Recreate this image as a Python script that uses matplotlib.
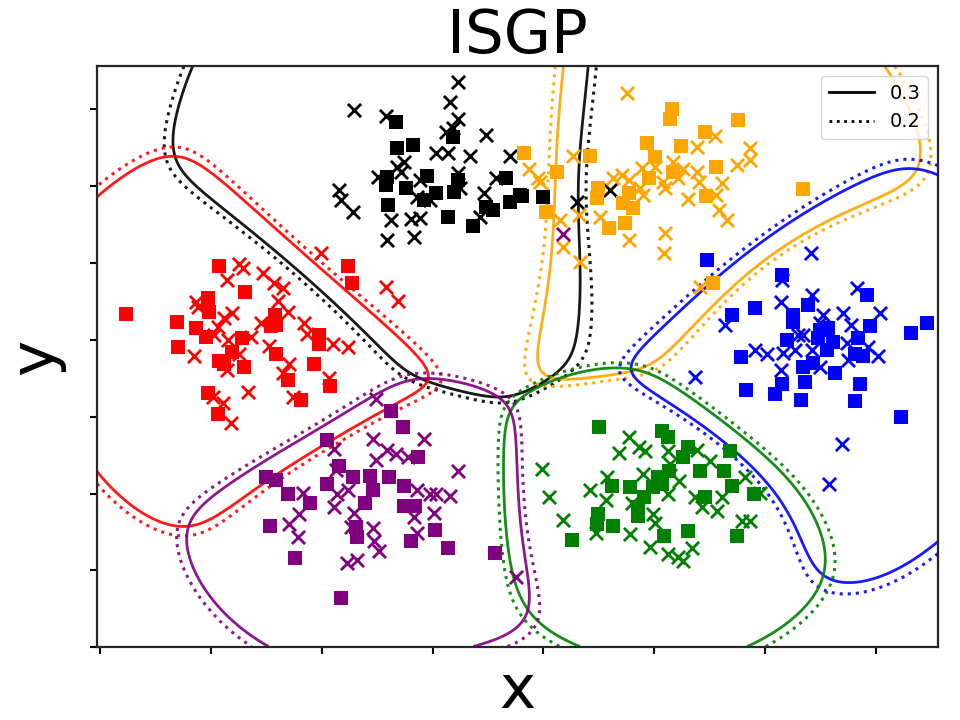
import numpy as np
import matplotlib.pyplot as plt

# ---- data (x, y) ----
black_squares = [(-0.33, 2.83), (-0.32, 2.49), (-0.18, 2.53), (0.18, 2.64), (-0.41, 2.12),
                 (-0.42, 2.01), (-0.24, 1.97), (-0.05, 2.13), (0.03, 1.91), (-0.08, 1.82),
                 (0.19, 1.92), (0.23, 2.08), (-0.40, 1.75), (0.14, 1.60), (0.36, 1.48),
                 (0.48, 1.73), (0.54, 1.69), (0.66, 2.10), (0.70, 1.79), (0.81, 1.87),
                 (1.00, 1.86), (0.79, 1.88)]
black_crosses = [(0.23, 3.36), (0.16, 3.09), (-0.71, 2.99), (-0.42, 2.91), (0.23, 2.87),
                 (0.12, 2.70), (0.18, 2.75), (0.48, 2.66), (0.03, 2.43), (0.14, 2.43),
                 (0.34, 2.39), (0.70, 2.39), (-0.26, 2.32), (-0.32, 2.25), (-0.49, 2.12),
                 (-0.29, 2.19), (-0.11, 2.08), (0.23, 2.17), (0.25, 1.97), (0.46, 1.91),
                 (0.57, 2.10), (-0.85, 1.95), (-0.83, 1.82), (-0.72, 1.66), (-0.14, 1.86),
                 (-0.02, 1.82), (-0.38, 1.56), (-0.20, 1.57), (-0.11, 1.58), (0.43, 1.60),
                 (-0.41, 1.30), (-0.17, 1.34), (1.60, 1.95), (1.30, 1.79)]

orange_squares = [(2.16, 3.01), (2.14, 2.87), (2.76, 2.86), (2.46, 2.70), (1.93, 2.56),
                  (2.24, 2.52), (2.01, 2.38), (1.42, 2.39), (0.82, 2.43), (1.12, 2.18),
                  (2.56, 2.25), (2.17, 2.19), (1.95, 2.10), (1.49, 1.97), (1.48, 1.84),
                  (1.77, 1.91), (1.72, 1.78), (1.81, 1.71), (2.47, 1.87), (1.02, 1.66),
                  (1.74, 1.52), (1.59, 1.45), (3.34, 1.96), (2.53, 0.74)]
orange_crosses = [(1.75, 3.21), (2.55, 2.65), (2.39, 2.51), (2.86, 2.49), (2.86, 2.34),
                  (2.75, 2.27), (1.27, 2.39), (2.17, 2.31), (1.89, 2.23), (2.01, 2.25),
                  (2.26, 2.22), (2.39, 2.18), (1.71, 2.14), (1.63, 2.10), (1.77, 2.08),
                  (2.08, 2.05), (2.10, 1.97), (2.21, 2.10), (2.40, 2.05), (2.61, 2.04),
                  (1.87, 1.97), (1.90, 1.88), (2.56, 1.88), (2.30, 1.83), (2.58, 1.69),
                  (2.66, 1.56), (0.87, 2.22), (0.95, 2.10), (0.97, 2.05), (1.32, 1.62),
                  (1.51, 1.60), (1.15, 1.56), (1.77, 1.30), (2.10, 1.39), (1.18, 1.21),
                  (2.09, 1.13), (1.33, 1.01), (2.41, 0.69)]

red_squares = [(-1.93, 0.96), (-0.76, 0.96), (-0.73, 0.74), (-1.69, 0.62), (-2.77, 0.34),
               (-2.03, 0.55), (-2.02, 0.36), (-2.31, 0.23), (-2.14, 0.16), (-2.05, 0.04),
               (-2.30, -0.09), (-1.42, 0.32), (-1.46, 0.18), (-1.41, 0.19), (-1.72, 0.03),
               (-1.81, -0.16), (-1.03, 0.06), (-1.03, -0.06), (-1.93, -0.27), (-1.88, -0.32),
               (-1.70, -0.35), (-1.41, -0.18), (-1.07, -0.31), (-1.31, -0.52), (-0.93, -0.60),
               (-2.03, -0.69), (-1.19, -0.78), (-1.94, -0.96)]
red_crosses = [(-1.01, 1.13), (-1.75, 0.99), (-1.71, 0.94), (-1.53, 0.87), (-1.86, 0.78),
               (-1.43, 0.74), (-1.35, 0.68), (-1.40, 0.51), (-2.14, 0.49), (-2.12, 0.43),
               (-1.81, 0.35), (-1.88, 0.29), (-1.31, 0.36), (-1.55, 0.22), (-1.94, 0.17),
               (-1.97, 0.06), (-1.16, 0.22), (-1.13, 0.08), (-1.64, 0.04), (-1.85, 0.00),
               (-1.48, -0.08), (-0.90, -0.06), (-0.76, -0.09), (-2.15, -0.21), (-1.75, -0.19),
               (-1.30, -0.32), (-1.35, -0.43), (-1.86, -0.39), (-0.94, -0.49), (-1.67, -0.68),
               (-1.26, -0.74), (-1.98, -0.74), (-1.89, -0.82), (-1.82, -1.08), (-0.42, 0.69),
               (-0.31, 0.51)]

blue_squares = [(2.48, 1.04), (3.15, 0.84), (3.92, 0.58), (2.70, 0.32), (2.91, 0.42),
                (3.25, 0.32), (3.25, 0.23), (3.39, 0.45), (3.50, 0.13), (3.57, 0.16),
                (3.48, 0.03), (3.61, -0.03), (3.56, -0.13), (3.84, 0.03), (3.95, 0.18),
                (3.20, 0.00), (2.78, -0.22), (3.81, -0.19), (3.88, -0.21), (3.34, -0.35),
                (3.43, -0.30), (3.36, -0.55), (3.63, -0.43), (3.86, -0.57), (2.83, -0.65),
                (3.15, -0.58), (3.09, -0.70), (3.32, -0.78), (3.81, -0.79), (4.32, 0.09),
                (4.46, 0.22), (4.23, -1.01)]
blue_crosses = [(3.41, 1.13), (3.15, 0.78), (3.83, 0.68), (3.42, 0.58), (3.14, 0.49),
                (2.64, 0.19), (3.52, 0.32), (3.70, 0.35), (4.04, 0.35), (3.78, 0.19),
                (3.50, 0.22), (3.30, 0.06), (3.34, 0.06), (2.91, -0.13), (3.02, -0.19),
                (3.16, -0.17), (3.27, -0.13), (3.42, -0.13), (3.74, -0.04), (3.93, -0.09),
                (4.02, -0.21), (3.75, -0.26), (3.50, -0.35), (3.14, -0.39), (2.37, -0.48),
                (3.69, -1.35), (3.58, -1.87)]

green_squares = [(1.50, -1.14), (2.07, -1.19), (2.12, -1.27), (2.30, -1.40), (2.26, -1.52),
                 (2.68, -1.45), (2.13, -1.71), (2.03, -1.79), (2.41, -1.70), (2.63, -1.71),
                 (2.70, -1.90), (1.62, -1.90), (1.78, -1.92), (1.99, -1.92), (2.07, -1.88),
                 (1.91, -2.04), (1.85, -2.17), (1.85, -2.29), (2.46, -2.04), (2.90, -2.00),
                 (1.49, -2.27), (1.48, -2.39), (1.63, -2.42), (1.26, -2.60), (2.09, -2.55),
                 (2.30, -2.49), (2.75, -2.55)]
green_crosses = [(0.99, -1.68), (1.77, -1.26), (1.86, -1.40), (1.92, -1.45), (1.68, -1.47),
                 (2.12, -1.45), (2.39, -1.43), (2.50, -1.58), (2.14, -1.62), (1.90, -1.75),
                 (1.57, -1.79), (2.22, -1.84), (2.82, -1.78), (1.42, -1.95), (2.12, -2.01),
                 (1.56, -2.08), (2.37, -2.05), (2.61, -2.05), (2.95, -1.99), (1.05, -2.05),
                 (1.80, -2.12), (2.43, -2.17), (2.57, -2.23), (1.99, -2.27), (1.18, -2.34),
                 (2.01, -2.38), (2.79, -2.36), (2.86, -2.36), (1.47, -2.51), (1.78, -2.52),
                 (1.96, -2.69), (2.12, -2.79), (2.21, -2.83), (2.26, -2.88), (2.34, -2.71)]

purple_squares = [(-0.38, -0.92), (-0.27, -1.13), (-0.95, -1.30), (-0.85, -1.64), (-1.50, -1.78),
                  (-1.41, -1.82), (-0.95, -1.87), (-0.72, -1.78), (-0.57, -1.77), (-0.39, -1.78),
                  (-0.26, -1.90), (-0.54, -1.96), (-0.13, -1.53), (-1.31, -2.00), (-1.11, -2.12),
                  (-0.61, -2.12), (-0.26, -2.16), (-0.16, -2.16), (-0.69, -2.43), (-0.68, -2.57),
                  (-1.47, -2.42), (0.02, -2.47), (-0.20, -2.62), (0.14, -2.71), (-1.24, -2.84),
                  (0.56, -2.77), (-0.83, -3.36)]
purple_crosses = [(-0.51, -0.77), (-0.54, -1.29), (-0.08, -1.29), (-0.89, -1.42), (-0.41, -1.43),
                  (-0.33, -1.49), (-0.51, -1.56), (-0.22, -1.52), (0.23, -1.71), (-0.87, -1.69),
                  (-1.17, -1.99), (-0.86, -2.01), (-0.89, -2.17), (-0.76, -1.95), (-0.14, -1.95),
                  (-0.02, -2.00), (0.03, -2.01), (0.16, -2.03), (-1.21, -2.27), (-0.71, -2.25),
                  (0.01, -2.25), (-0.17, -2.31), (-1.30, -2.40), (-0.74, -2.43), (-0.54, -2.45),
                  (-1.22, -2.57), (-0.14, -2.51), (-0.53, -2.62), (-0.48, -2.75), (-0.77, -2.90),
                  (-0.68, -2.86), (0.75, -3.08), (1.18, 1.38)]

classes = [
    ('black', black_squares, black_crosses),
    ('orange', orange_squares, orange_crosses),
    ('red', red_squares, red_crosses),
    ('blue', blue_squares, blue_crosses),
    ('green', green_squares, green_crosses),
    ('purple', purple_squares, purple_crosses),
]
# per-class offset of the soft distance (smaller = class reaches further)
class_offset = {'black': -0.45, 'orange': -0.25, 'red': -0.05,
                'blue': -0.12, 'green': 0.15, 'purple': 0.18}
levels = [0.2, 0.3]
xlim = (-3.03, 4.56)
ylim = (-3.99, 3.56)

# soft-distance classifier with a "far away" class, standing in for the model
LS = 0.5
YSCALE = 0.694
BETA = 9.0
FAR = 1.45
gx, gy = np.meshgrid(np.linspace(*xlim, 400), np.linspace(*ylim, 400))
dists = []
for name, sq, cr in classes:
    pts = np.array(sq + cr)
    d2 = (gx[..., None] - pts[:, 0]) ** 2 + ((gy[..., None] - pts[:, 1]) * YSCALE) ** 2
    a = -d2 / (2 * LS ** 2)
    amax = a.max(axis=-1)
    logk = amax + np.log(np.exp(a - amax[..., None]).mean(axis=-1))
    dists.append(np.sqrt(np.maximum(-2 * LS ** 2 * logk, 0)) + class_offset[name])
logits = -BETA * np.array(dists)
far_logit = -BETA * FAR
top = np.maximum(logits.max(axis=0), far_logit)
ex = np.exp(logits - top)
prob = ex / (ex.sum(axis=0) + np.exp(far_logit - top))

fig, ax = plt.subplots(figsize=(9.6, 7.2), dpi=100)
fig.subplots_adjust(left=0.101, right=0.977, bottom=0.101, top=0.908)

for i, (name, sq, cr) in enumerate(classes):
    ax.contour(gx, gy, prob[i], levels=[levels[0]], colors=name, linestyles=':', linewidths=2.2, alpha=0.9)
    ax.contour(gx, gy, prob[i], levels=[levels[1]], colors=name, linestyles='-', linewidths=2.0, alpha=0.9)
    sq = np.array(sq)
    cr = np.array(cr)
    ax.scatter(cr[:, 0], cr[:, 1], marker='x', s=90, c=name, linewidths=2, zorder=3)
    ax.scatter(sq[:, 0], sq[:, 1], marker='s', s=110, c=name, linewidths=0, zorder=3)

ax.plot([], [], 'k-', lw=2, label='0.3')
ax.plot([], [], 'k:', lw=2, label='0.2')
ax.legend(loc='upper right', fontsize=14, handlelength=2.3)

ax.set_xlim(*xlim)
ax.set_ylim(*ylim)
ax.set_xticks(range(-3, 5))
ax.set_yticks(range(-4, 4))
ax.tick_params(labelcolor='white', length=5, width=1.5)
for sp in ax.spines.values():
    sp.set_linewidth(1.6)
    sp.set_color('#262626')
ax.set_title('ISGP', fontsize=44)
ax.set_xlabel('x', fontsize=44, labelpad=-8)
ax.set_ylabel('y', fontsize=44, labelpad=0)

fig.savefig('out.png', dpi=100)
